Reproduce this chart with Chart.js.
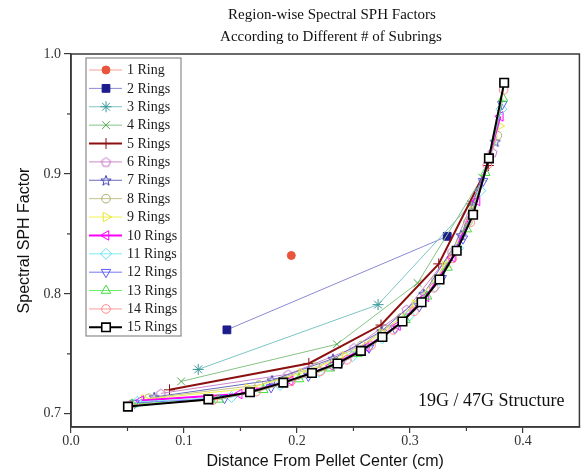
<!DOCTYPE html>
<html><head><meta charset="utf-8">
<script src="https://cdn.jsdelivr.net/npm/chart.js@4/dist/chart.umd.min.js"></script>
<style>html,body{margin:0;padding:0;background:#fff}#wrap{width:587px;height:473px;position:relative}</style>
</head><body><div id="wrap"><canvas id="c" width="587" height="473"></canvas></div>
<script>
const titleLines = ["Region-wise Spectral SPH Factors", "According to Different # of Subrings"];
const xTitle = "Distance From Pellet Center (cm)";
const yTitle = "Spectral SPH Factor";
const note = "19G / 47G Structure";
const seriesLabels = ["1 Ring","2 Rings","3 Rings","4 Rings","5 Rings","6 Rings","7 Rings","8 Rings","9 Rings","10 Rings","11 Rings","12 Rings","13 Rings","14 Rings","15 Rings"];
const xTicks = [0.0, 0.1, 0.2, 0.3, 0.4];
const yTicks = [0.7, 0.8, 0.9, 1.0];

const x01=[0.195]; const y01=[0.832];
const x02=[0.138,0.333]; const y02=[0.770,0.848];
const x03=[0.1126,0.2718,0.3542]; const y03=[0.737,0.791,0.875];
const x04=[0.0975,0.2354,0.3068,0.3639]; const y04=[0.727,0.758,0.809,0.897];
const x05=[0.0872,0.2105,0.2744,0.3255,0.3694]; const y05=[0.720,0.742,0.774,0.825,0.907];
const x06=[0.0796,0.1922,0.2505,0.2971,0.3372,0.3730]; const y06=[0.717,0.733,0.755,0.787,0.835,0.918];
const x07=[0.0737,0.1780,0.2319,0.2751,0.3122,0.3454,0.3755]; const y07=[0.714,0.728,0.746,0.769,0.800,0.849,0.927];
const x08=[0.0689,0.1665,0.2169,0.2573,0.2920,0.3230,0.3513,0.3774]; const y08=[0.713,0.724,0.739,0.757,0.780,0.812,0.860,0.932];
const x09=[0.0650,0.1569,0.2045,0.2426,0.2754,0.3046,0.3312,0.3558,0.3789]; const y09=[0.712,0.721,0.734,0.748,0.767,0.791,0.823,0.869,0.940];
const x10=[0.0617,0.1489,0.1940,0.2302,0.2613,0.2890,0.3142,0.3376,0.3594,0.3800]; const y10=[0.711,0.7165,0.7275,0.740,0.7555,0.7735,0.7975,0.8305,0.8775,0.948];
const x11=[0.0588,0.1420,0.1850,0.2195,0.2491,0.2755,0.2996,0.3219,0.3427,0.3623,0.3809]; const y11=[0.710,0.714,0.724,0.735,0.748,0.763,0.782,0.806,0.838,0.886,0.954];
const x12=[0.0563,0.1359,0.1771,0.2101,0.2385,0.2638,0.2868,0.3082,0.3281,0.3469,0.3647,0.3817]; const y12=[0.709,0.713,0.722,0.7315,0.742,0.755,0.771,0.7895,0.813,0.846,0.894,0.958];
const x13=[0.0541,0.1306,0.1702,0.2018,0.2291,0.2535,0.2756,0.2961,0.3152,0.3333,0.3504,0.3667,0.3824]; const y13=[0.708,0.712,0.720,0.729,0.738,0.750,0.763,0.7785,0.798,0.822,0.854,0.901,0.963];
const x14=[0.0521,0.1258,0.1640,0.1945,0.2208,0.2442,0.2656,0.2853,0.3038,0.3212,0.3377,0.3534,0.3685,0.3829]; const y14=[0.707,0.7115,0.7185,0.727,0.7355,0.745,0.757,0.770,0.7855,0.805,0.8295,0.8595,0.9075,0.970];
const x15=[0.0504,0.1216,0.1584,0.1879,0.2133,0.2359,0.2566,0.2756,0.2934,0.3103,0.3262,0.3414,0.3559,0.3699,0.3834]; const y15=[0.706,0.712,0.718,0.726,0.734,0.742,0.7525,0.764,0.777,0.793,0.812,0.836,0.866,0.913,0.976];

const xs=[x01,x02,x03,x04,x05,x06,x07,x08,x09,x10,x11,x12,x13,x14,x15];
const ys=[y01,y02,y03,y04,y05,y06,y07,y08,y09,y10,y11,y12,y13,y14,y15];

function polyCanvas(color, pts, size) {
  const c = document.createElement('canvas');
  c.width = size; c.height = size;
  const g = c.getContext('2d');
  g.strokeStyle = color; g.lineWidth = 1;
  g.beginPath();
  pts.forEach((p,i)=>{ const X=size/2+p[0], Y=size/2+p[1]; i?g.lineTo(X,Y):g.moveTo(X,Y); });
  g.closePath(); g.stroke();
  return c;
}
function pentagon(color){
  const r=4.8, pts=[];
  for(let i=0;i<5;i++){const a=-Math.PI/2+i*2*Math.PI/5; pts.push([r*Math.cos(a), r*Math.sin(a)+0.5]);}
  return polyCanvas(color, pts, 13);
}
function star5(color){
  const R=5.4, r=2.2, pts=[];
  for(let i=0;i<10;i++){const a=-Math.PI/2+i*Math.PI/5; const rr=i%2?r:R; pts.push([rr*Math.cos(a), rr*Math.sin(a)+0.6]);}
  return polyCanvas(color, pts, 14);
}

const styles = [
  {line:'#f3a294', pt:'#e8553b', fill:'#e8553b', ps:'circle', rot:0, w:1, r:4},
  {line:'#8a8ad2', pt:'#1c1c8c', fill:'#1c1c8c', ps:'rect', rot:0, w:1, r:5.5},
  {line:'#7cc4c4', pt:'#3a9898', fill:'rgba(0,0,0,0)', ps:'star', rot:0, w:1, r:5.5},
  {line:'#84c484', pt:'#52a852', fill:'rgba(0,0,0,0)', ps:'crossRot', rot:0, w:1, r:5.5},
  {line:'#8b1010', pt:'#8b1010', fill:'rgba(0,0,0,0)', ps:'cross', rot:0, w:2, r:5.5},
  {line:'#cc88cc', pt:'#c070c0', fill:'rgba(0,0,0,0)', ps:pentagon('#c070c0'), rot:0, w:1, r:5},
  {line:'#6a6ac0', pt:'#4040b0', fill:'rgba(0,0,0,0)', ps:star5('#4040b0'), rot:0, w:1, r:5},
  {line:'#c4c48a', pt:'#b0b070', fill:'rgba(0,0,0,0)', ps:'circle', rot:0, w:1, r:4.3},
  {line:'#f2f250', pt:'#e6e630', fill:'rgba(0,0,0,0)', ps:'triangle', rot:90, w:1, r:5.5},
  {line:'#ff00ff', pt:'#ff00ff', fill:'rgba(0,0,0,0)', ps:'triangle', rot:-90, w:2, r:5.5},
  {line:'#7eecf2', pt:'#66e0ea', fill:'rgba(0,0,0,0)', ps:'rectRot', rot:0, w:1, r:5.5},
  {line:'#7474f4', pt:'#5a5af0', fill:'rgba(0,0,0,0)', ps:'triangle', rot:180, w:1, r:5.5},
  {line:'#66ee66', pt:'#44dd44', fill:'rgba(0,0,0,0)', ps:'triangle', rot:0, w:1, r:5.5},
  {line:'#ff9c9c', pt:'#ff8a8a', fill:'rgba(0,0,0,0)', ps:'circle', rot:0, w:1, r:4.3},
  {line:'#000000', pt:'#000000', fill:'#ffffff', ps:'rect', rot:0, w:2, r:6}
];

const datasets = seriesLabels.map((lab,i)=>({
  label: lab,
  data: xs[i].map((x,j)=>({x:x, y:ys[i][j]})),
  borderColor: styles[i].line,
  borderWidth: styles[i].w,
  pointStyle: styles[i].ps,
  pointRotation: styles[i].rot,
  pointRadius: styles[i].r,
  pointBorderColor: styles[i].pt,
  pointBackgroundColor: styles[i].fill,
  pointBorderWidth: (i===14)?1.6:1,
  showLine: true,
  tension: 0,
  order: 15 - i
}));

const serif = "'Liberation Serif', 'Times New Roman', serif";
const sans = "'Liberation Sans', Arial, sans-serif";
const AX = '#3a3a3a';

const decor = {
  id: 'decor',
  afterDraw(chart) {
    const ctx = chart.ctx, ca = chart.chartArea;
    const xs_ = chart.scales.x, ys_ = chart.scales.y;
    ctx.save();
    ctx.strokeStyle = AX; ctx.lineWidth = 1.5;
    ctx.strokeRect(ca.left, ca.top, ca.right - ca.left, ca.bottom - ca.top);
    ctx.lineWidth = 1.2;
    [0.05,0.15,0.25,0.35].forEach(v=>{
      const px = xs_.getPixelForValue(v);
      ctx.beginPath(); ctx.moveTo(px, ca.bottom); ctx.lineTo(px, ca.bottom+4); ctx.stroke();
    });
    [0.75,0.85,0.95].forEach(v=>{
      const py = ys_.getPixelForValue(v);
      ctx.beginPath(); ctx.moveTo(ca.left, py); ctx.lineTo(ca.left-4, py); ctx.stroke();
    });
    ctx.fillStyle = '#111';
    ctx.font = "15px " + serif;
    ctx.textAlign = 'center'; ctx.textBaseline = 'middle';
    ctx.fillText(titleLines[0], 332, 15);
    ctx.fillText(titleLines[1], 331, 37);
    ctx.font = "18px " + serif;
    ctx.textAlign = 'left';
    ctx.fillText(note, 418, 401);
    const lx = 86, ly = 58, lw = 95, lh = 278;
    ctx.fillStyle = '#fff';
    ctx.fillRect(lx, ly, lw, lh);
    ctx.strokeStyle = '#8a8a8a'; ctx.lineWidth = 1.2;
    ctx.strokeRect(lx, ly, lw, lh);
    chart.data.datasets.forEach((ds, i)=>{
      const cy = 70 + i*18.38;
      ctx.strokeStyle = ds.borderColor; ctx.lineWidth = ds.borderWidth;
      ctx.beginPath(); ctx.moveTo(89, cy); ctx.lineTo(122, cy); ctx.stroke();
      ctx.strokeStyle = ds.pointBorderColor; ctx.fillStyle = ds.pointBackgroundColor;
      ctx.lineWidth = ds.pointBorderWidth;
      Chart.helpers.drawPoint(ctx, {pointStyle: ds.pointStyle, rotation: ds.pointRotation, radius: ds.pointRadius, borderWidth: ds.pointBorderWidth}, 106, cy);
      ctx.fillStyle = '#1a1a1a';
      ctx.font = "14px " + serif;
      ctx.textAlign = 'left'; ctx.textBaseline = 'middle';
      ctx.fillText(ds.label, 127, cy + 0.5);
    });
    ctx.restore();
  }
};

new Chart(document.getElementById('c'), {
  type: 'scatter',
  data: { datasets },
  options: {
    responsive: false,
    animation: false,
    devicePixelRatio: 1,
    layout: { padding: { top: 54, right: 7, left: 0, bottom: 0 } },
    plugins: { legend: { display: false }, tooltip: { enabled: false }, title: { display: false } },
    scales: {
      x: {
        type: 'linear', min: 0, max: 0.45,
        afterFit: s => { s.height = 46; },
        afterBuildTicks: s => { s.ticks = xTicks.map(v => ({value: v})); },
        ticks: { callback: v => Number(v).toFixed(1), font: { family: serif, size: 14 }, color: '#333', padding: 0, maxRotation: 0 },
        grid: { drawOnChartArea: false, tickLength: 6, color: AX, lineWidth: 1.2 },
        border: { display: true, color: AX, width: 1.5 },
        title: { display: true, text: xTitle, font: { family: sans, size: 16 }, color: '#111', padding: { top: 0, bottom: 2 } }
      },
      y: {
        type: 'linear', min: 0.689, max: 1.0,
        afterFit: s => { s.width = 71; },
        afterBuildTicks: s => { s.ticks = yTicks.map(v => ({value: v})); },
        ticks: { callback: v => Number(v).toFixed(1), font: { family: serif, size: 14 }, color: '#333', padding: 3 },
        grid: { drawOnChartArea: false, tickLength: 7, color: AX, lineWidth: 1.2 },
        border: { display: true, color: AX, width: 1.5 },
        title: { display: true, text: yTitle, font: { family: sans, size: 16 }, color: '#111', padding: { top: 15, bottom: 0 } }
      }
    }
  },
  plugins: [decor]
});
</script></body></html>
